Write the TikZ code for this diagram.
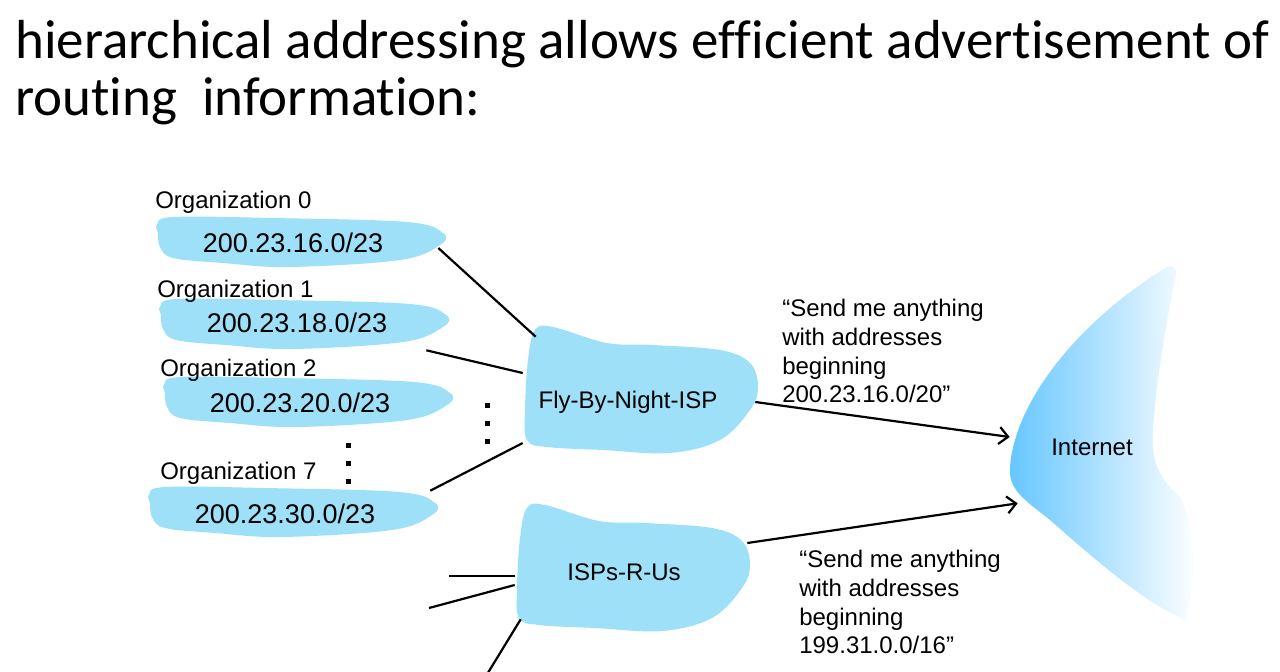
\documentclass[tikz,border=0pt]{standalone}
\usepackage{fontspec}
\setmainfont{Liberation Sans}
\newfontfamily\titlefont[Ligatures={NoCommon,NoContextual}]{Carlito}
\usepackage{tikz}
\usetikzlibrary{arrows.meta,positioning,calc}
\definecolor{blobblue}{RGB}{157,224,248}
\definecolor{netblue}{RGB}{100,198,255}
\tikzset{
  every picture/.append style={line width=0.6pt},
  orgcloud/.pic={
    \fill[blobblue] plot[smooth cycle, tension=0.6] coordinates
      {(2,7) (18,-1) (118,0) (252,4) (288,15) (285,27) (245,42) (135,49) (68,45) (18,40) (5,29) (3,15)};
  },
  ispcloud/.pic={
    \fill[blobblue] plot[smooth cycle, tension=0.6] coordinates
      {(12,5) (30,2) (84,18) (130,20) (197,25) (227,38) (235,62) (227,85) (197,115) (147,128) (80,125) (24,122) (4,115) (2,85) (5,35)};
  }
}

\begin{document}
\begin{tikzpicture}[x=1pt, y=-1pt,
  headline/.style={anchor=base west, inner sep=0, font=\titlefont\fontsize{55}{57}\selectfont},
  orglabel/.style={anchor=base west, inner sep=0, font=\fontsize{24}{28.7}\selectfont},
  addr/.style={minimum width=290pt, minimum height=46pt, inner sep=0, font=\fontsize{27}{32}\selectfont},
  isp/.style={minimum width=#1, minimum height=130pt, inner sep=0, font=\fontsize{24}{28.7}\selectfont},
  advert/.style={anchor=north west, align=left, inner sep=0, font=\fontsize{24}{28.7}\selectfont},
  link/.style={line width=2.2pt},
  arrow/.style={-{Straight Barb[length=9pt,width=17pt,line width=2.2pt]}, line width=2.2pt}
]
\useasboundingbox (0,0) rectangle (1280,672);

% Heading
\node[headline] (head1) at (15,58) {hierarchical addressing allows efficient advertisement of};
\node[headline] (head2) at (15,115) {routing~ information:};

% Clouds
\pic at (155,218) {orgcloud};
\pic at (158,300) {orgcloud};
\pic at (162,378) {orgcloud};
\pic at (147,488) {orgcloud};
\pic at (523,325) {ispcloud};
\pic at (515,503) {ispcloud};
\shade[left color=netblue, right color=white]
  (1167,267) .. controls (1080,320) and (1015,400) .. (1010,467)
  .. controls (1008,490) and (1025,500) .. (1050,520)
  .. controls (1090,555) and (1140,600) .. (1185,620)
  .. controls (1198,580) and (1195,520) .. (1180,497)
  .. controls (1160,480) and (1150,460) .. (1153,430)
  .. controls (1156,380) and (1170,300) .. (1176,276)
  .. controls (1178,268) and (1172,265) .. (1167,267) -- cycle;

% Organizations
\node[orglabel] (lab0) at (155,208) {Organization 0};
\node[addr] (org0) at (293,243) {200.23.16.0/23};
\node[orglabel] (lab1) at (157,297) {Organization 1};
\node[addr] (org1) at (297,323) {200.23.18.0/23};
\node[orglabel] (lab2) at (160,376) {Organization 2};
\node[addr] (org2) at (300,403) {200.23.20.0/23};
\node[orglabel] (lab7) at (160,479) {Organization 7};
\node[addr] (org7) at (285,514) {200.23.30.0/23};

% ellipsis dots
\foreach \y in {445,463,481} \fill (345.5,\y-2.5) rectangle +(5,5);
\foreach \y in {405,423,441} \fill (484.5,\y-2.5) rectangle +(5,5);

% ISPs and Internet
\node[isp=210pt] (fbn) at (628,402) {Fly-By-Night-ISP};
\node[isp=218pt, minimum height=128pt] (isps) at (624,572) {ISPs-R-Us};
\node[minimum width=164pt, minimum height=112pt, inner sep=0, font=\fontsize{24}{28.7}\selectfont] (inet) at (1092,447) {Internet};

% Links
\draw[link] ([yshift=-5pt]org0.east) -- ([xshift=13pt]fbn.north west);
\draw[link] ([xshift=-16pt,yshift=-4pt]org1.south east) -- ([yshift=29pt]fbn.west);
\draw[link] (org7.north east) -- ([yshift=-41pt]fbn.west);
\coordinate (in1) at (449,576);
\coordinate (in2) at (429,608);
\coordinate (in3) at (486,676);
\draw[link] (in1) -- ([yshift=-4pt]isps.west);
\draw[link] (in2) -- ([yshift=-13pt]isps.west);
\draw[link] (in3) -- ([xshift=6pt,yshift=17pt]isps.south west);

% Advertisements
\draw[arrow] ([xshift=22pt]fbn.east) -- ([yshift=10pt]inet.west);
\draw[arrow] ([xshift=14pt,yshift=29pt]isps.east) -- ([xshift=8pt]inet.south west);
\node[advert] (adv1) at (782,299) {“Send me anything\\with addresses\\beginning\\200.23.16.0/20”};
\node[advert] (adv2) at (799,550) {“Send me anything\\with addresses\\beginning\\199.31.0.0/16”};

\end{tikzpicture}
\end{document}
